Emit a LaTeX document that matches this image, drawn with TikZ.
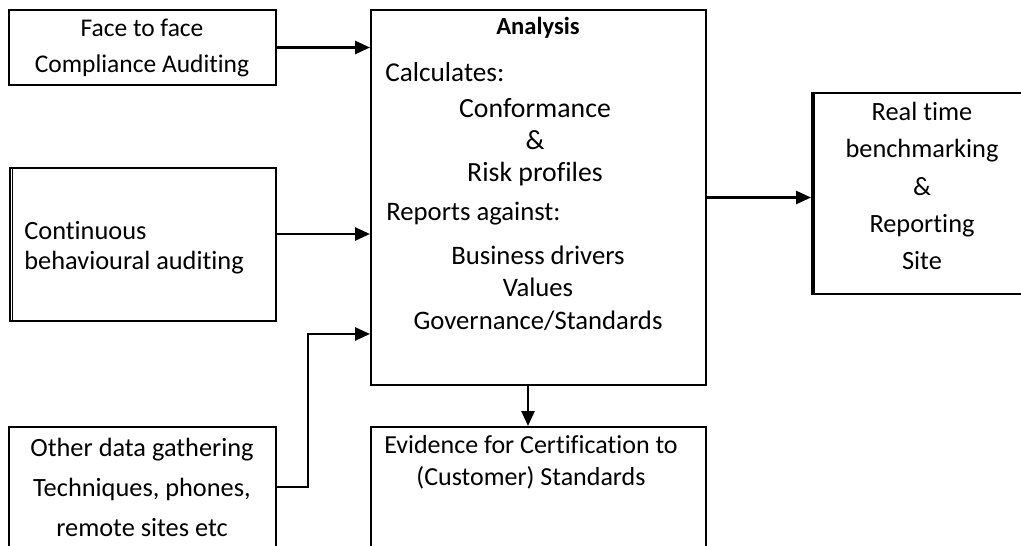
\documentclass[tikz,border=0pt]{standalone}
\usepackage{fontspec}
\setmainfont[Ligatures={NoCommon}]{Carlito}
\usetikzlibrary{arrows.meta,fit}
\tikzset{
  box/.style={draw, line width=1.2pt, inner sep=0pt},
  txt/.style={font=\fontsize{15}{#1}\selectfont, align=center, inner sep=0pt},
  arr/.style={-{Triangle[length=8.5pt,width=7.5pt]}, line width=1.2pt},
}
\begin{document}
\begin{tikzpicture}[x=0.02cm, y=-0.02cm]
      \useasboundingbox (0,0) rectangle (1021,545);
      \clip (0,0) rectangle (1021,545);
      % boxes
      \node[box, fit={(9,10) (276,85)}] (face) {};
      \node[box, fit={(10,168) (276,321)}] (cont) {};
      \node[box, fit={(9,427) (276,547)}] (other) {};
      \node[box, fit={(371,10) (706,385)}] (ana) {};
      \node[box, fit={(371,427) (706,547)}] (evid) {};
      \node[box, fit={(812,93) (1030,294)}] (real) {};
      \draw[line width=0.8pt] ([xshift=0.07cm]cont.north west) -- ([xshift=0.07cm]cont.south west);
      \draw[line width=0.8pt] ([xshift=0.06cm]real.north west) -- ([xshift=0.06cm]real.south west);
      % texts
      \node[txt=20, font=\fontsize{14.5}{20}\selectfont] (faceT) at (142,48) {Face to face\\Compliance Auditing};
      \node[txt=17, align=left, anchor=west] (contT) at (24,248) {Continuous\\behavioural auditing};
      \node[txt=22.8] (otherT) at (142,487) {Other data gathering\\Techniques, phones,\\remote sites etc};
      \node[txt=18, font=\fontsize{14}{18}\selectfont\bfseries] (anaT) at (538,28) {Analysis};
      \node[txt=18, font=\fontsize{15.5}{18}\selectfont, anchor=west] (calc) at (385,72) {Calculates:};
      \node[txt=18.2, font=\fontsize{15.8}{18.2}\selectfont] (calcL) at (535,142) {Conformance\\\&\\Risk profiles};
      \node[txt=18, font=\fontsize{15.2}{18}\selectfont, anchor=west] (rep) at (386,214) {Reports against:};
      \node[txt=18.5, font=\fontsize{15.2}{18.5}\selectfont] (repL) at (538,288) {Business drivers\\Values\\Governance/Standards};
      \node[txt=18.2, font=\fontsize{14.8}{18.2}\selectfont] (evidT) at (531,462) {Evidence for Certification to\\(Customer) Standards};
      \node[txt=21.2] (realT) at (922,186) {Real time\\benchmarking\\\&\\Reporting\\Site};
      % connectors
      \begin{scope}[arr]
        \draw (face.east) -- (face.east -| ana.west);
        \draw ([yshift=0.21cm]cont.east) -- ([yshift=0.21cm]cont.east -| ana.west);
        \draw (other.east) -- ++(31,0) |- ([yshift=-2.73cm]ana.west);
        \draw (ana.east) -- (ana.east -| real.west);
        \draw ([xshift=-0.21cm]ana.south) -- ([xshift=-0.21cm]evid.north);
      \end{scope}
    \end{tikzpicture}
\end{document}
